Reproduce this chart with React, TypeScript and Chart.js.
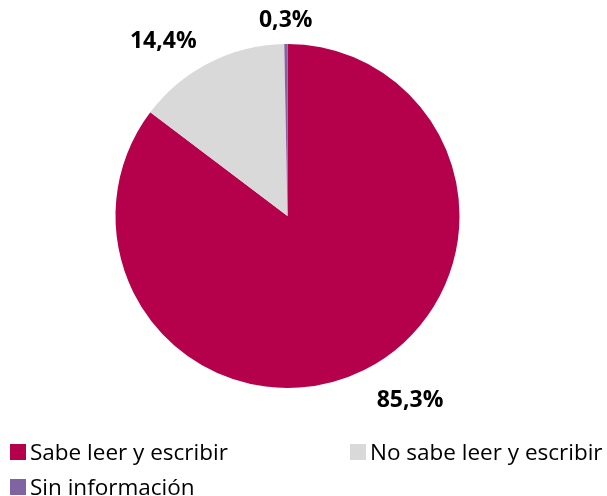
import React, { useEffect, useRef } from "react";
import { Chart, registerables } from "chart.js";

Chart.register(...registerables);

const categories = ["Sabe leer y escribir", "No sabe leer y escribir", "Sin información"];
const values = [85.3, 14.4, 0.3];
const valueLabels = ["85,3%", "14,4%", "0,3%"];
const colors = ["#B5004B", "#D9D9D9", "#8064A2"];

const FONT = "'Open Sans', 'Noto Sans', sans-serif";

const outsideLabels = {
  id: "outsideLabels",
  afterDatasetsDraw(chart: any) {
    const ctx = chart.ctx;
    const meta = chart.getDatasetMeta(0);
    ctx.save();
    ctx.font = `bold 23px ${FONT}`;
    ctx.fillStyle = "#000000";
    ctx.textBaseline = "alphabetic";
    meta.data.forEach((arc: any, i: number) => {
      const { x, y, startAngle, endAngle, outerRadius } = arc.getProps(
        ["x", "y", "startAngle", "endAngle", "outerRadius"],
        true
      );
      const mid = (startAngle + endAngle) / 2;
      const c = Math.cos(mid);
      const s = Math.sin(mid);
      const d = outerRadius + 17;
      let px = x + c * d;
      let py = y + s * d;
      if (c > 0.15) {
        ctx.textAlign = "left";
        px += 5;
      } else if (c < -0.15) {
        ctx.textAlign = "right";
        px -= 5;
      } else {
        ctx.textAlign = "center";
      }
      if (s > 0.15) py += 22;
      else if (s >= -0.15) py += 8;
      ctx.fillText(valueLabels[i], px, py);
    });
    ctx.restore();
  },
};

export default function App() {
  const ref = useRef<HTMLCanvasElement>(null);
  useEffect(() => {
    if (!ref.current) return;
    const chart = new Chart(ref.current, {
      type: "pie",
      data: {
        labels: categories,
        datasets: [
          {
            data: values,
            backgroundColor: colors,
            borderWidth: 0,
          },
        ],
      },
      options: {
        responsive: false,
        animation: false,
        layout: { padding: { left: 115.5, right: 147.5, top: 44, bottom: 108 } },
        plugins: {
          legend: { display: false },
          tooltip: { enabled: false },
        },
      },
      plugins: [outsideLabels],
    });
    return () => chart.destroy();
  }, []);

  const legendPos = [
    { left: 10, top: 444 },
    { left: 350, top: 444 },
    { left: 10, top: 479 },
  ];

  return (
    <div style={{ position: "absolute", left: 0, top: 0, width: 607, height: 496, background: "#fff", overflow: "hidden" }}>
      <canvas ref={ref} width={607} height={496} style={{ position: "absolute", left: 0, top: 0 }} />
      {categories.map((c, i) => (
        <React.Fragment key={c}>
          <span
            style={{
              position: "absolute",
              left: legendPos[i].left,
              top: legendPos[i].top,
              width: 16,
              height: 16,
              background: colors[i],
            }}
          />
          <span
            style={{
              position: "absolute",
              left: legendPos[i].left + 20,
              top: legendPos[i].top - 4.5,
              fontFamily: FONT,
              fontSize: 22.5,
              lineHeight: "23px",
              color: "#000",
              whiteSpace: "nowrap",
            }}
          >
            {c}
          </span>
        </React.Fragment>
      ))}
    </div>
  );
}
